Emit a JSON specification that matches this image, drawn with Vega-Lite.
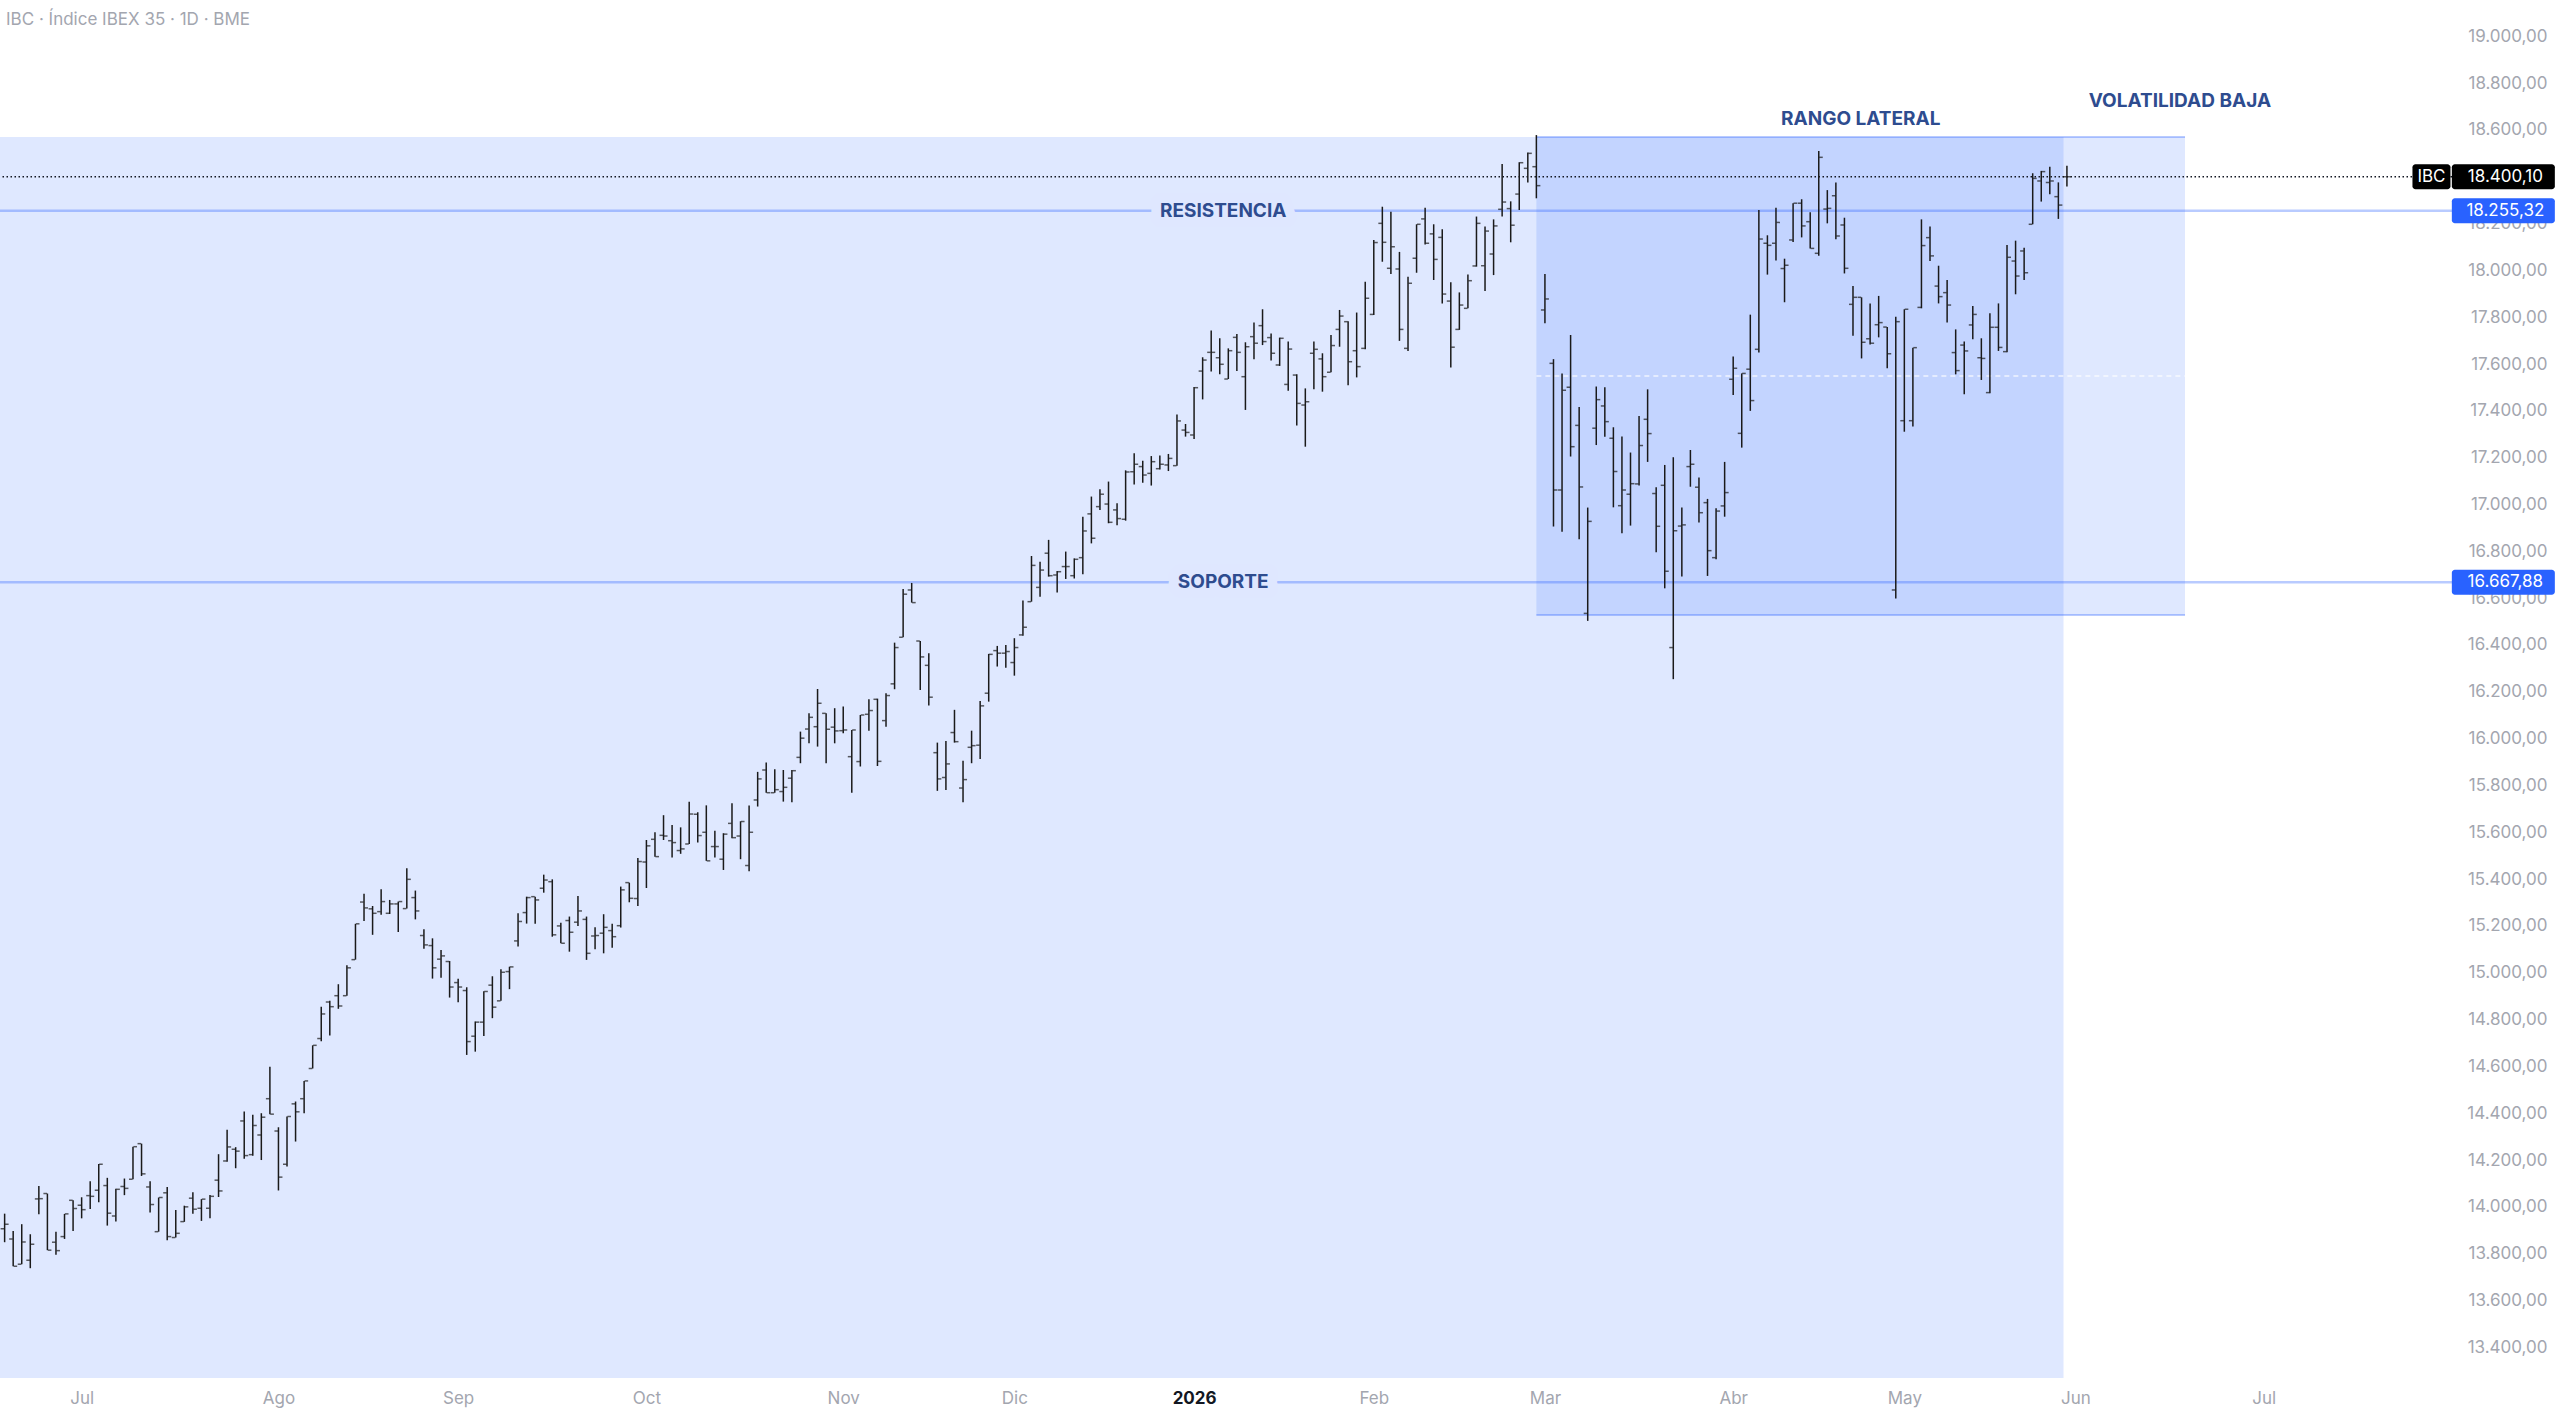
{
  "$schema": "https://vega.github.io/schema/vega-lite/v6.json",
  "width": 2452,
  "height": 1378,
  "autosize": {"type": "none"},
  "padding": {"left": 0, "top": 0, "right": 108, "bottom": 38},
  "background": "#ffffff",
  "config": {
    "view": {"stroke": null},
    "font": "Inter",
    "axis": {"domain": false, "ticks": false, "grid": false, "labelFont": "Inter", "labelFontSize": 17, "labelColor": "#a3a6af"}
  },
  "title": {
    "text": "IBC · Índice IBEX 35 · 1D · BME",
    "anchor": "start", "frame": "group", "orient": "top", "offset": -30, "baseline": "top", "dx": 6, "dy": -1,
    "fontSize": 17, "fontWeight": "normal", "color": "#a3a6af", "font": "Inter"
  },
  "datasets": {
    "zones": [
      {"zone": "historico", "start": -12, "end": 231.6, "top": 18570, "bottom": 13000},
      {"zone": "rango", "start": 170, "end": 245.8, "top": 18570, "bottom": 16528, "mid": 17549}
    ],
    "levels": [
      {"name": "RESISTENCIA", "price": 18255.32, "tag": "18.255,32"},
      {"name": "SOPORTE", "price": 16667.88, "tag": "16.667,88"}
    ],
    "last": [
      {"symbol": "IBC", "price": 18400.10, "tag": "18.400,10"}
    ],
    "notes": [
      {"text": "RANGO LATERAL", "i": 207.9, "price": 18647},
      {"text": "VOLATILIDAD BAJA", "i": 245.2, "price": 18723}
    ],
    "bars": [
      {"i": -9, "o": 13906, "h": 13971, "l": 13849, "c": 13926},
      {"i": -8, "o": 13863, "h": 13897, "l": 13746, "c": 13746},
      {"i": -7, "o": 13755, "h": 13926, "l": 13755, "c": 13850},
      {"i": -6, "o": 13772, "h": 13883, "l": 13738, "c": 13840},
      {"i": -5, "o": 14034, "h": 14089, "l": 13968, "c": 14035},
      {"i": -4, "o": 14057, "h": 14057, "l": 13815, "c": 13815},
      {"i": -3, "o": 13849, "h": 13894, "l": 13795, "c": 13813},
      {"i": -2, "o": 13873, "h": 13970, "l": 13863, "c": 13970},
      {"i": -1, "o": 14028, "h": 14028, "l": 13897, "c": 13993},
      {"i": 0, "o": 14007, "h": 14041, "l": 13951, "c": 13988},
      {"i": 1, "o": 14048, "h": 14109, "l": 13991, "c": 14045},
      {"i": 2, "o": 14071, "h": 14183, "l": 14020, "c": 14182},
      {"i": 3, "o": 14091, "h": 14124, "l": 13920, "c": 13973},
      {"i": 4, "o": 13961, "h": 14077, "l": 13937, "c": 14075},
      {"i": 5, "o": 14087, "h": 14121, "l": 14050, "c": 14079},
      {"i": 6, "o": 14118, "h": 14257, "l": 14118, "c": 14257},
      {"i": 7, "o": 14270, "h": 14270, "l": 14132, "c": 14141},
      {"i": 8, "o": 14085, "h": 14109, "l": 13976, "c": 14010},
      {"i": 9, "o": 13894, "h": 14040, "l": 13894, "c": 14040},
      {"i": 10, "o": 14060, "h": 14085, "l": 13857, "c": 13873},
      {"i": 11, "o": 13869, "h": 13987, "l": 13869, "c": 13887},
      {"i": 12, "o": 13937, "h": 14005, "l": 13936, "c": 14000},
      {"i": 13, "o": 14037, "h": 14062, "l": 13971, "c": 13990},
      {"i": 14, "o": 13994, "h": 14033, "l": 13940, "c": 14033},
      {"i": 15, "o": 13994, "h": 14051, "l": 13951, "c": 14045},
      {"i": 16, "o": 14114, "h": 14225, "l": 14042, "c": 14068},
      {"i": 17, "o": 14196, "h": 14329, "l": 14193, "c": 14256},
      {"i": 18, "o": 14246, "h": 14255, "l": 14165, "c": 14238},
      {"i": 19, "o": 14367, "h": 14407, "l": 14205, "c": 14219},
      {"i": 20, "o": 14223, "h": 14393, "l": 14218, "c": 14347},
      {"i": 21, "o": 14307, "h": 14400, "l": 14200, "c": 14383},
      {"i": 22, "o": 14462, "h": 14599, "l": 14396, "c": 14396},
      {"i": 23, "o": 14324, "h": 14340, "l": 14070, "c": 14127},
      {"i": 24, "o": 14182, "h": 14386, "l": 14172, "c": 14386},
      {"i": 25, "o": 14440, "h": 14450, "l": 14279, "c": 14406},
      {"i": 26, "o": 14462, "h": 14538, "l": 14400, "c": 14538},
      {"i": 27, "o": 14591, "h": 14690, "l": 14591, "c": 14690},
      {"i": 28, "o": 14719, "h": 14855, "l": 14707, "c": 14824},
      {"i": 29, "o": 14875, "h": 14880, "l": 14732, "c": 14855},
      {"i": 30, "o": 14902, "h": 14951, "l": 14846, "c": 14858},
      {"i": 31, "o": 14902, "h": 15032, "l": 14902, "c": 15021},
      {"i": 32, "o": 15056, "h": 15209, "l": 15056, "c": 15209},
      {"i": 33, "o": 15302, "h": 15337, "l": 15221, "c": 15277},
      {"i": 34, "o": 15273, "h": 15285, "l": 15162, "c": 15254},
      {"i": 35, "o": 15261, "h": 15357, "l": 15248, "c": 15304},
      {"i": 36, "o": 15254, "h": 15311, "l": 15251, "c": 15294},
      {"i": 37, "o": 15294, "h": 15304, "l": 15174, "c": 15304},
      {"i": 38, "o": 15274, "h": 15446, "l": 15274, "c": 15399},
      {"i": 39, "o": 15321, "h": 15351, "l": 15228, "c": 15264},
      {"i": 40, "o": 15159, "h": 15186, "l": 15102, "c": 15119},
      {"i": 41, "o": 15116, "h": 15147, "l": 14975, "c": 15021},
      {"i": 42, "o": 15058, "h": 15097, "l": 14979, "c": 15072},
      {"i": 43, "o": 15048, "h": 15050, "l": 14894, "c": 14939},
      {"i": 44, "o": 14958, "h": 14974, "l": 14874, "c": 14939},
      {"i": 45, "o": 14924, "h": 14938, "l": 14649, "c": 14706},
      {"i": 46, "o": 14729, "h": 14792, "l": 14663, "c": 14789},
      {"i": 47, "o": 14789, "h": 14921, "l": 14730, "c": 14920},
      {"i": 48, "o": 14947, "h": 14985, "l": 14806, "c": 14853},
      {"i": 49, "o": 14880, "h": 15015, "l": 14880, "c": 15002},
      {"i": 50, "o": 15005, "h": 15026, "l": 14930, "c": 15025},
      {"i": 51, "o": 15136, "h": 15254, "l": 15112, "c": 15219},
      {"i": 52, "o": 15257, "h": 15325, "l": 15210, "c": 15321},
      {"i": 53, "o": 15325, "h": 15325, "l": 15209, "c": 15311},
      {"i": 54, "o": 15361, "h": 15419, "l": 15342, "c": 15396},
      {"i": 55, "o": 15389, "h": 15399, "l": 15154, "c": 15162},
      {"i": 56, "o": 15200, "h": 15214, "l": 15126, "c": 15126},
      {"i": 57, "o": 15223, "h": 15240, "l": 15090, "c": 15173},
      {"i": 58, "o": 15216, "h": 15328, "l": 15200, "c": 15264},
      {"i": 59, "o": 15228, "h": 15240, "l": 15055, "c": 15083},
      {"i": 60, "o": 15157, "h": 15194, "l": 15100, "c": 15159},
      {"i": 61, "o": 15169, "h": 15250, "l": 15083, "c": 15194},
      {"i": 62, "o": 15180, "h": 15209, "l": 15107, "c": 15154},
      {"i": 63, "o": 15201, "h": 15368, "l": 15193, "c": 15354},
      {"i": 64, "o": 15385, "h": 15385, "l": 15301, "c": 15318},
      {"i": 65, "o": 15317, "h": 15490, "l": 15285, "c": 15475},
      {"i": 66, "o": 15473, "h": 15567, "l": 15362, "c": 15542},
      {"i": 67, "o": 15570, "h": 15600, "l": 15496, "c": 15496},
      {"i": 68, "o": 15587, "h": 15673, "l": 15567, "c": 15584},
      {"i": 69, "o": 15564, "h": 15631, "l": 15492, "c": 15556},
      {"i": 70, "o": 15522, "h": 15621, "l": 15508, "c": 15529},
      {"i": 71, "o": 15550, "h": 15730, "l": 15550, "c": 15678},
      {"i": 72, "o": 15677, "h": 15686, "l": 15556, "c": 15586},
      {"i": 73, "o": 15600, "h": 15715, "l": 15478, "c": 15478},
      {"i": 74, "o": 15539, "h": 15607, "l": 15492, "c": 15539},
      {"i": 75, "o": 15485, "h": 15596, "l": 15439, "c": 15592},
      {"i": 76, "o": 15638, "h": 15724, "l": 15574, "c": 15577},
      {"i": 77, "o": 15584, "h": 15647, "l": 15485, "c": 15646},
      {"i": 78, "o": 15458, "h": 15714, "l": 15434, "c": 15600},
      {"i": 79, "o": 15738, "h": 15858, "l": 15710, "c": 15828},
      {"i": 80, "o": 15866, "h": 15898, "l": 15769, "c": 15769},
      {"i": 81, "o": 15769, "h": 15869, "l": 15769, "c": 15782},
      {"i": 82, "o": 15774, "h": 15866, "l": 15731, "c": 15792},
      {"i": 83, "o": 15831, "h": 15866, "l": 15728, "c": 15863},
      {"i": 84, "o": 15920, "h": 16030, "l": 15895, "c": 16002},
      {"i": 85, "o": 16041, "h": 16108, "l": 15980, "c": 16091},
      {"i": 86, "o": 16051, "h": 16212, "l": 15966, "c": 16151},
      {"i": 87, "o": 16108, "h": 16108, "l": 15895, "c": 16040},
      {"i": 88, "o": 16049, "h": 16130, "l": 15980, "c": 16033},
      {"i": 89, "o": 16034, "h": 16137, "l": 16023, "c": 16037},
      {"i": 90, "o": 15923, "h": 16037, "l": 15769, "c": 16037},
      {"i": 91, "o": 15902, "h": 16101, "l": 15881, "c": 16101},
      {"i": 92, "o": 16104, "h": 16168, "l": 16034, "c": 16120},
      {"i": 93, "o": 16168, "h": 16171, "l": 15883, "c": 15903},
      {"i": 94, "o": 16077, "h": 16194, "l": 16051, "c": 16184},
      {"i": 95, "o": 16234, "h": 16410, "l": 16211, "c": 16389},
      {"i": 96, "o": 16433, "h": 16639, "l": 16433, "c": 16617},
      {"i": 97, "o": 16635, "h": 16665, "l": 16581, "c": 16581},
      {"i": 98, "o": 16417, "h": 16417, "l": 16208, "c": 16349},
      {"i": 99, "o": 16313, "h": 16365, "l": 16142, "c": 16177},
      {"i": 100, "o": 15940, "h": 15983, "l": 15777, "c": 15828},
      {"i": 101, "o": 15834, "h": 15990, "l": 15781, "c": 15892},
      {"i": 102, "o": 16026, "h": 16123, "l": 15983, "c": 15987},
      {"i": 103, "o": 15789, "h": 15905, "l": 15728, "c": 15825},
      {"i": 104, "o": 15963, "h": 16034, "l": 15895, "c": 15970},
      {"i": 105, "o": 15972, "h": 16161, "l": 15913, "c": 16140},
      {"i": 106, "o": 16194, "h": 16362, "l": 16158, "c": 16360},
      {"i": 107, "o": 16376, "h": 16396, "l": 16308, "c": 16365},
      {"i": 108, "o": 16365, "h": 16400, "l": 16303, "c": 16372},
      {"i": 109, "o": 16325, "h": 16429, "l": 16269, "c": 16389},
      {"i": 110, "o": 16443, "h": 16590, "l": 16439, "c": 16476},
      {"i": 111, "o": 16585, "h": 16780, "l": 16585, "c": 16740},
      {"i": 112, "o": 16646, "h": 16756, "l": 16606, "c": 16720},
      {"i": 113, "o": 16792, "h": 16849, "l": 16692, "c": 16696},
      {"i": 114, "o": 16699, "h": 16716, "l": 16624, "c": 16713},
      {"i": 115, "o": 16735, "h": 16799, "l": 16682, "c": 16735},
      {"i": 116, "o": 16696, "h": 16770, "l": 16684, "c": 16766},
      {"i": 117, "o": 16773, "h": 16948, "l": 16702, "c": 16887},
      {"i": 118, "o": 16960, "h": 17034, "l": 16834, "c": 16856},
      {"i": 119, "o": 16991, "h": 17065, "l": 16977, "c": 17044},
      {"i": 120, "o": 17002, "h": 17098, "l": 16920, "c": 16924},
      {"i": 121, "o": 16977, "h": 17005, "l": 16911, "c": 16940},
      {"i": 122, "o": 16937, "h": 17146, "l": 16931, "c": 17139},
      {"i": 123, "o": 17140, "h": 17219, "l": 17085, "c": 17172},
      {"i": 124, "o": 17162, "h": 17187, "l": 17093, "c": 17126},
      {"i": 125, "o": 17133, "h": 17207, "l": 17081, "c": 17183},
      {"i": 126, "o": 17153, "h": 17209, "l": 17150, "c": 17172},
      {"i": 127, "o": 17169, "h": 17216, "l": 17143, "c": 17197},
      {"i": 128, "o": 17166, "h": 17385, "l": 17166, "c": 17357},
      {"i": 129, "o": 17318, "h": 17344, "l": 17290, "c": 17308},
      {"i": 130, "o": 17297, "h": 17502, "l": 17280, "c": 17499},
      {"i": 131, "o": 17570, "h": 17629, "l": 17449, "c": 17617},
      {"i": 132, "o": 17650, "h": 17743, "l": 17568, "c": 17650},
      {"i": 133, "o": 17627, "h": 17710, "l": 17556, "c": 17599},
      {"i": 134, "o": 17536, "h": 17667, "l": 17536, "c": 17657},
      {"i": 135, "o": 17714, "h": 17728, "l": 17570, "c": 17650},
      {"i": 136, "o": 17546, "h": 17693, "l": 17404, "c": 17674},
      {"i": 137, "o": 17717, "h": 17777, "l": 17620, "c": 17689},
      {"i": 138, "o": 17764, "h": 17834, "l": 17681, "c": 17696},
      {"i": 139, "o": 17713, "h": 17731, "l": 17615, "c": 17646},
      {"i": 140, "o": 17596, "h": 17713, "l": 17592, "c": 17710},
      {"i": 141, "o": 17513, "h": 17696, "l": 17486, "c": 17664},
      {"i": 142, "o": 17553, "h": 17556, "l": 17337, "c": 17432},
      {"i": 143, "o": 17425, "h": 17496, "l": 17247, "c": 17439},
      {"i": 144, "o": 17646, "h": 17696, "l": 17492, "c": 17663},
      {"i": 145, "o": 17622, "h": 17646, "l": 17482, "c": 17546},
      {"i": 146, "o": 17565, "h": 17724, "l": 17565, "c": 17679},
      {"i": 147, "o": 17748, "h": 17831, "l": 17674, "c": 17805},
      {"i": 148, "o": 17781, "h": 17783, "l": 17509, "c": 17610},
      {"i": 149, "o": 17657, "h": 17820, "l": 17543, "c": 17589},
      {"i": 150, "o": 17667, "h": 17952, "l": 17663, "c": 17881},
      {"i": 151, "o": 17812, "h": 18130, "l": 17810, "c": 18119},
      {"i": 152, "o": 18201, "h": 18272, "l": 18037, "c": 18120},
      {"i": 153, "o": 18009, "h": 18251, "l": 17985, "c": 18101},
      {"i": 154, "o": 18006, "h": 18079, "l": 17699, "c": 17748},
      {"i": 155, "o": 17667, "h": 17973, "l": 17656, "c": 17945},
      {"i": 156, "o": 18052, "h": 18197, "l": 17990, "c": 18197},
      {"i": 157, "o": 18220, "h": 18268, "l": 18111, "c": 18116},
      {"i": 158, "o": 18156, "h": 18197, "l": 17959, "c": 18047},
      {"i": 159, "o": 18141, "h": 18176, "l": 17859, "c": 17899},
      {"i": 160, "o": 17869, "h": 17949, "l": 17585, "c": 17672},
      {"i": 161, "o": 17748, "h": 17906, "l": 17746, "c": 17852},
      {"i": 162, "o": 17838, "h": 17983, "l": 17838, "c": 17956},
      {"i": 163, "o": 18019, "h": 18230, "l": 18016, "c": 18201},
      {"i": 164, "o": 18020, "h": 18187, "l": 17912, "c": 18168},
      {"i": 165, "o": 18070, "h": 18218, "l": 17980, "c": 18190},
      {"i": 166, "o": 18261, "h": 18455, "l": 18230, "c": 18292},
      {"i": 167, "o": 18264, "h": 18295, "l": 18120, "c": 18193},
      {"i": 168, "o": 18326, "h": 18462, "l": 18258, "c": 18460},
      {"i": 169, "o": 18436, "h": 18504, "l": 18376, "c": 18500},
      {"i": 170, "o": 18443, "h": 18578, "l": 18308, "c": 18362},
      {"i": 171, "o": 17831, "h": 17985, "l": 17774, "c": 17878},
      {"i": 172, "o": 17603, "h": 17621, "l": 16906, "c": 17062},
      {"i": 173, "o": 17062, "h": 17560, "l": 16884, "c": 17488},
      {"i": 174, "o": 17501, "h": 17724, "l": 17205, "c": 17247},
      {"i": 175, "o": 17338, "h": 17417, "l": 16852, "c": 17075},
      {"i": 176, "o": 16535, "h": 16987, "l": 16503, "c": 16928},
      {"i": 177, "o": 17326, "h": 17504, "l": 17254, "c": 17448},
      {"i": 178, "o": 17421, "h": 17501, "l": 17289, "c": 17354},
      {"i": 179, "o": 17283, "h": 17330, "l": 16988, "c": 17141},
      {"i": 180, "o": 16995, "h": 17290, "l": 16877, "c": 17062},
      {"i": 181, "o": 17044, "h": 17222, "l": 16910, "c": 17089},
      {"i": 182, "o": 17088, "h": 17378, "l": 17081, "c": 17252},
      {"i": 183, "o": 17364, "h": 17492, "l": 17182, "c": 17303},
      {"i": 184, "o": 17047, "h": 17074, "l": 16796, "c": 16907},
      {"i": 185, "o": 17082, "h": 17169, "l": 16642, "c": 16715},
      {"i": 186, "o": 16389, "h": 17202, "l": 16254, "c": 16888},
      {"i": 187, "o": 16908, "h": 16987, "l": 16692, "c": 16913},
      {"i": 188, "o": 17162, "h": 17233, "l": 17076, "c": 17172},
      {"i": 189, "o": 17074, "h": 17115, "l": 16923, "c": 16965},
      {"i": 190, "o": 17008, "h": 17024, "l": 16695, "c": 16803},
      {"i": 191, "o": 16773, "h": 16984, "l": 16766, "c": 16972},
      {"i": 192, "o": 16994, "h": 17182, "l": 16948, "c": 17051},
      {"i": 193, "o": 17535, "h": 17632, "l": 17468, "c": 17582},
      {"i": 194, "o": 17304, "h": 17560, "l": 17243, "c": 17560},
      {"i": 195, "o": 17578, "h": 17811, "l": 17400, "c": 17444},
      {"i": 196, "o": 17663, "h": 18258, "l": 17649, "c": 18134},
      {"i": 197, "o": 18116, "h": 18150, "l": 17982, "c": 18107},
      {"i": 198, "o": 18116, "h": 18268, "l": 18042, "c": 18205},
      {"i": 199, "o": 18008, "h": 18050, "l": 17864, "c": 18022},
      {"i": 200, "o": 18130, "h": 18287, "l": 18121, "c": 18287},
      {"i": 201, "o": 18287, "h": 18304, "l": 18141, "c": 18190},
      {"i": 202, "o": 18208, "h": 18248, "l": 18094, "c": 18094},
      {"i": 203, "o": 18073, "h": 18510, "l": 18063, "c": 18483},
      {"i": 204, "o": 18262, "h": 18343, "l": 18201, "c": 18265},
      {"i": 205, "o": 18319, "h": 18375, "l": 18133, "c": 18147},
      {"i": 206, "o": 18194, "h": 18225, "l": 17987, "c": 18009},
      {"i": 207, "o": 17855, "h": 17933, "l": 17721, "c": 17885},
      {"i": 208, "o": 17885, "h": 17885, "l": 17624, "c": 17693},
      {"i": 209, "o": 17708, "h": 17859, "l": 17684, "c": 17689},
      {"i": 210, "o": 17768, "h": 17891, "l": 17714, "c": 17777},
      {"i": 211, "o": 17758, "h": 17758, "l": 17582, "c": 17644},
      {"i": 212, "o": 16635, "h": 17802, "l": 16599, "c": 17781},
      {"i": 213, "o": 17358, "h": 17834, "l": 17311, "c": 17834},
      {"i": 214, "o": 17358, "h": 17670, "l": 17333, "c": 17670},
      {"i": 215, "o": 17842, "h": 18218, "l": 17838, "c": 18106},
      {"i": 216, "o": 18140, "h": 18187, "l": 18040, "c": 18062},
      {"i": 217, "o": 17933, "h": 18020, "l": 17859, "c": 17888},
      {"i": 218, "o": 17905, "h": 17959, "l": 17777, "c": 17852},
      {"i": 219, "o": 17649, "h": 17748, "l": 17556, "c": 17572},
      {"i": 220, "o": 17681, "h": 17696, "l": 17471, "c": 17656},
      {"i": 221, "o": 17767, "h": 17848, "l": 17706, "c": 17812},
      {"i": 222, "o": 17627, "h": 17710, "l": 17532, "c": 17624},
      {"i": 223, "o": 17478, "h": 17817, "l": 17475, "c": 17757},
      {"i": 224, "o": 17757, "h": 17859, "l": 17656, "c": 17671},
      {"i": 225, "o": 17653, "h": 18109, "l": 17650, "c": 18056},
      {"i": 226, "o": 18040, "h": 18127, "l": 17898, "c": 17976},
      {"i": 227, "o": 18083, "h": 18097, "l": 17959, "c": 17990},
      {"i": 228, "o": 18197, "h": 18415, "l": 18197, "c": 18393},
      {"i": 229, "o": 18382, "h": 18425, "l": 18294, "c": 18422},
      {"i": 230, "o": 18375, "h": 18443, "l": 18325, "c": 18382},
      {"i": 231, "o": 18315, "h": 18376, "l": 18220, "c": 18279},
      {"i": 232, "o": 18400, "h": 18447, "l": 18358, "c": 18400.1}
    ]
  },
  "layer": [
    {
      "data": {"name": "zones"},
      "mark": {"type": "rect", "color": "#2962ff", "opacity": 0.15, "clip": true},
      "encoding": {
        "x": {"field": "start", "type": "quantitative", "title": null, "scale": {"domain": [-9.54, 277], "nice": false, "zero": false}},
        "x2": {"field": "end"},
        "y": {"field": "top", "type": "quantitative", "title": null, "scale": {"domain": [13269, 19155], "nice": false, "zero": false}},
        "y2": {"field": "bottom"}
      }
    },
    {
      "data": {"name": "zones"},
      "transform": [{"filter": "datum.zone == 'rango'"}],
      "mark": {"type": "rule", "color": "#2962ff", "opacity": 0.33, "strokeWidth": 2},
      "encoding": {
        "x": {"field": "start", "type": "quantitative", "title": null},
        "x2": {"field": "end"},
        "y": {"field": "top", "type": "quantitative", "title": null}
      }
    },
    {
      "data": {"name": "zones"},
      "transform": [{"filter": "datum.zone == 'rango'"}],
      "mark": {"type": "rule", "color": "#2962ff", "opacity": 0.33, "strokeWidth": 2},
      "encoding": {
        "x": {"field": "start", "type": "quantitative", "title": null},
        "x2": {"field": "end"},
        "y": {"field": "bottom", "type": "quantitative", "title": null}
      }
    },
    {
      "data": {"name": "zones"},
      "transform": [{"filter": "datum.zone == 'rango'"}],
      "mark": {"type": "rule", "color": "#ffffff", "opacity": 0.75, "strokeWidth": 1.5, "strokeDash": [5, 4]},
      "encoding": {
        "x": {"field": "start", "type": "quantitative", "title": null},
        "x2": {"field": "end"},
        "y": {"field": "mid", "type": "quantitative", "title": null}
      }
    },
    {
      "data": {"name": "levels"},
      "mark": {"type": "rule", "color": "#2962ff", "opacity": 0.33, "strokeWidth": 2.5},
      "encoding": {
        "y": {"field": "price", "type": "quantitative", "title": null}
      }
    },
    {
      "data": {"name": "last"},
      "mark": {"type": "rule", "color": "#131722", "strokeWidth": 1.3, "strokeDash": [1.5, 2.5]},
      "encoding": {
        "y": {"field": "price", "type": "quantitative", "title": null}
      }
    },
    {
      "data": {"name": "bars"},
      "mark": {"type": "rule", "color": "#1a1a1a", "strokeWidth": 1.5},
      "encoding": {
        "x": {
          "field": "i", "type": "quantitative", "title": null,
          "axis": {
            "orient": "bottom",
            "values": [0, 23, 44, 66, 89, 109, 130, 151, 171, 193, 213, 233, 255],
            "labelExpr": "['Jul','Ago','Sep','Oct','Nov','Dic','2026','Feb','Mar','Abr','May','Jun','Jul'][indexof([0,23,44,66,89,109,130,151,171,193,213,233,255], datum.value)]",
            "labelPadding": 12,
            "labelOverlap": false,
            "labelFontWeight": {"condition": {"test": "datum.value == 130", "value": "bold"}, "value": "normal"},
            "labelColor": {"condition": {"test": "datum.value == 130", "value": "#131722"}, "value": "#a3a6af"}
          }
        },
        "y": {
          "field": "l", "type": "quantitative", "title": null,
          "axis": {
            "orient": "right",
            "values": [13400, 13600, 13800, 14000, 14200, 14400, 14600, 14800, 15000, 15200, 15400, 15600, 15800, 16000, 16200, 16400, 16600, 16800, 17000, 17200, 17400, 17600, 17800, 18000, 18200, 18600, 18800, 19000],
            "labelExpr": "floor(datum.value / 1000) + '.' + format(datum.value % 1000, '03d') + ',00'",
            "labelAlign": "right",
            "labelBaseline": "middle",
            "labelPadding": 95,
            "tickSize": 0,
            "labelOverlap": false
          }
        },
        "y2": {"field": "h"}
      }
    },
    {
      "data": {"name": "bars"},
      "mark": {"type": "tick", "orient": "horizontal", "color": "#1a1a1a", "size": 3.6, "thickness": 1.5, "xOffset": -2.2},
      "encoding": {
        "x": {"field": "i", "type": "quantitative", "title": null},
        "y": {"field": "o", "type": "quantitative", "title": null}
      }
    },
    {
      "data": {"name": "bars"},
      "mark": {"type": "tick", "orient": "horizontal", "color": "#1a1a1a", "size": 3.6, "thickness": 1.5, "xOffset": 2.2},
      "encoding": {
        "x": {"field": "i", "type": "quantitative", "title": null},
        "y": {"field": "c", "type": "quantitative", "title": null}
      }
    },
    {
      "data": {"name": "levels"},
      "mark": {"type": "text", "font": "Inter", "fontSize": 19, "fontWeight": "bold", "align": "center", "baseline": "middle", "color": "#dfe7ff", "stroke": "#dfe7ff", "strokeWidth": 20, "strokeJoin": "round"},
      "encoding": {
        "x": {"datum": 133.4, "type": "quantitative"},
        "y": {"field": "price", "type": "quantitative", "title": null},
        "text": {"field": "name"}
      }
    },
    {
      "data": {"name": "levels"},
      "mark": {"type": "text", "font": "Inter", "fontSize": 19, "fontWeight": "bold", "align": "center", "baseline": "middle", "color": "#2e4c8f"},
      "encoding": {
        "x": {"datum": 133.4, "type": "quantitative"},
        "y": {"field": "price", "type": "quantitative", "title": null},
        "text": {"field": "name"}
      }
    },
    {
      "data": {"name": "notes"},
      "mark": {"type": "text", "font": "Inter", "fontSize": 19, "fontWeight": "bold", "align": "center", "baseline": "middle", "color": "#2e4c8f"},
      "encoding": {
        "x": {"field": "i", "type": "quantitative", "title": null},
        "y": {"field": "price", "type": "quantitative", "title": null},
        "text": {"field": "text"}
      }
    },
    {
      "data": {"name": "levels"},
      "mark": {"type": "rect", "color": "#2962ff", "width": 103, "height": 25, "cornerRadius": 3},
      "encoding": {
        "x": {"datum": 283, "type": "quantitative"},
        "y": {"field": "price", "type": "quantitative", "title": null}
      }
    },
    {
      "data": {"name": "levels"},
      "mark": {"type": "text", "font": "Inter", "fontSize": 17, "align": "center", "baseline": "middle", "color": "#ffffff", "dx": 2},
      "encoding": {
        "x": {"datum": 283, "type": "quantitative"},
        "y": {"field": "price", "type": "quantitative", "title": null},
        "text": {"field": "tag"}
      }
    },
    {
      "data": {"name": "last"},
      "mark": {"type": "rect", "color": "#000000", "width": 103, "height": 25, "cornerRadius": 3},
      "encoding": {
        "x": {"datum": 283, "type": "quantitative"},
        "y": {"field": "price", "type": "quantitative", "title": null}
      }
    },
    {
      "data": {"name": "last"},
      "mark": {"type": "rect", "color": "#000000", "width": 38, "height": 25, "cornerRadius": 3},
      "encoding": {
        "x": {"datum": 274.6, "type": "quantitative"},
        "y": {"field": "price", "type": "quantitative", "title": null}
      }
    },
    {
      "data": {"name": "last"},
      "mark": {"type": "text", "font": "Inter", "fontSize": 17, "align": "center", "baseline": "middle", "color": "#ffffff", "dx": 2},
      "encoding": {
        "x": {"datum": 283, "type": "quantitative"},
        "y": {"field": "price", "type": "quantitative", "title": null},
        "text": {"field": "tag"}
      }
    },
    {
      "data": {"name": "last"},
      "mark": {"type": "text", "font": "Inter", "fontSize": 17, "align": "center", "baseline": "middle", "color": "#ffffff"},
      "encoding": {
        "x": {"datum": 274.6, "type": "quantitative"},
        "y": {"field": "price", "type": "quantitative", "title": null},
        "text": {"field": "symbol"}
      }
    }
  ]
}
